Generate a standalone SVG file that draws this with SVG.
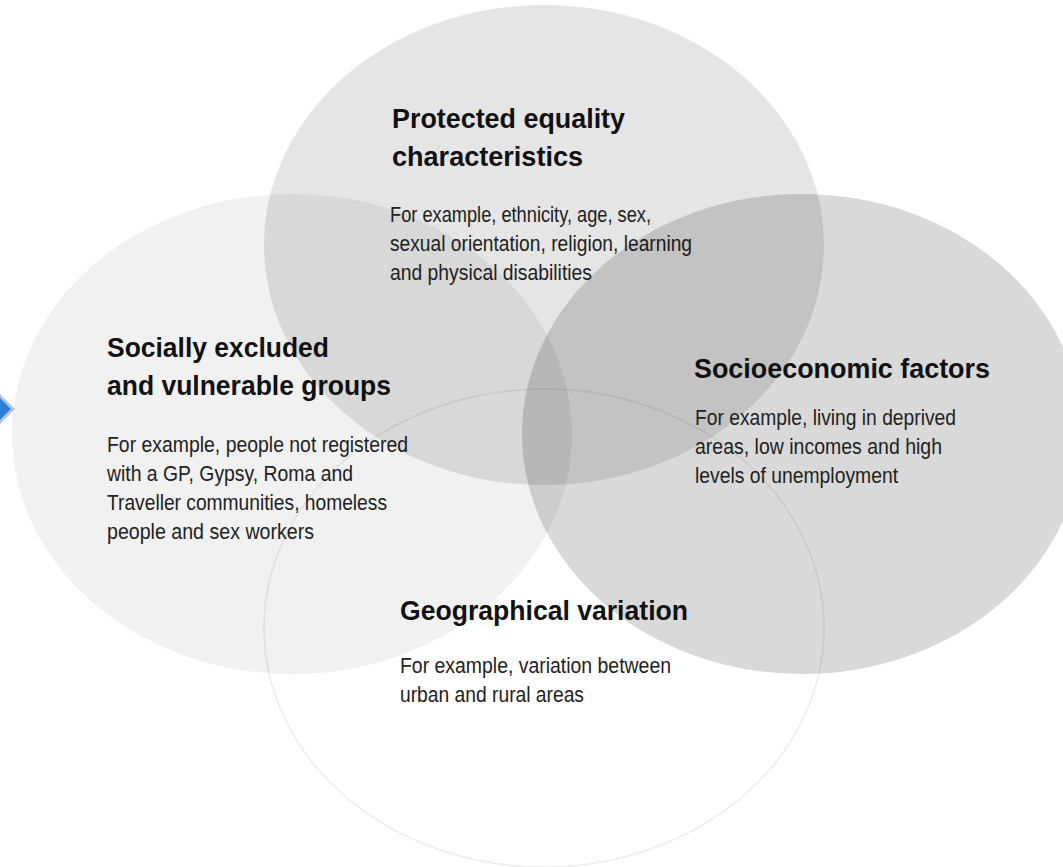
<svg xmlns="http://www.w3.org/2000/svg" width="1063" height="867" viewBox="0 0 1063 867">
  <style>
    .head { font-family: "Liberation Sans", Arial, sans-serif; font-weight: bold; font-size: 27px; fill: #111; }
    .body { font-family: "Liberation Sans", Arial, sans-serif; font-size: 22px; fill: #222; }
    .circle { stroke: none; }
  </style>
  <rect width="1063" height="867" fill="#ffffff"/>

  <!-- pointer arriving from the left edge -->
  <g id="connectors">
    <polygon points="13,409 -14,382 -41,409 -14,436" fill="#2b7fd9" stroke="#c4c0cc" stroke-width="3"/>
  </g>

  <!-- Socially excluded and vulnerable groups -->
  <g id="node-social">
    <ellipse class="circle" cx="292" cy="434" rx="280" ry="240" fill="#000" fill-opacity="0.055"/>
    <text class="head" x="107" y="357" textLength="222" lengthAdjust="spacingAndGlyphs">Socially excluded</text>
    <text class="head" x="107" y="395" textLength="284" lengthAdjust="spacingAndGlyphs">and vulnerable groups</text>
    <text class="body" x="107" y="452" textLength="301" lengthAdjust="spacingAndGlyphs">For example, people not registered</text>
    <text class="body" x="107" y="481" textLength="246" lengthAdjust="spacingAndGlyphs">with a GP, Gypsy, Roma and</text>
    <text class="body" x="107" y="510" textLength="280" lengthAdjust="spacingAndGlyphs">Traveller communities, homeless</text>
    <text class="body" x="107" y="539" textLength="207" lengthAdjust="spacingAndGlyphs">people and sex workers</text>
  </g>

  <!-- Protected equality characteristics -->
  <g id="node-protected">
    <ellipse class="circle" cx="544" cy="245" rx="280" ry="240" fill="#000" fill-opacity="0.10"/>
    <text class="head" x="392" y="128" textLength="233" lengthAdjust="spacingAndGlyphs">Protected equality</text>
    <text class="head" x="392" y="166" textLength="191" lengthAdjust="spacingAndGlyphs">characteristics</text>
    <text class="body" x="390" y="222" textLength="261" lengthAdjust="spacingAndGlyphs">For example, ethnicity, age, sex,</text>
    <text class="body" x="390" y="251" textLength="302" lengthAdjust="spacingAndGlyphs">sexual orientation, religion, learning</text>
    <text class="body" x="390" y="280" textLength="202" lengthAdjust="spacingAndGlyphs">and physical disabilities</text>
  </g>

  <!-- Socioeconomic factors -->
  <g id="node-socioeconomic">
    <ellipse class="circle" cx="802" cy="434" rx="280" ry="240" fill="#000" fill-opacity="0.15"/>
    <text class="head" x="694" y="378" textLength="296" lengthAdjust="spacingAndGlyphs">Socioeconomic factors</text>
    <text class="body" x="695" y="425" textLength="261" lengthAdjust="spacingAndGlyphs">For example, living in deprived</text>
    <text class="body" x="695" y="454" textLength="247" lengthAdjust="spacingAndGlyphs">areas, low incomes and high</text>
    <text class="body" x="695" y="483" textLength="203" lengthAdjust="spacingAndGlyphs">levels of unemployment</text>
  </g>

  <!-- Geographical variation -->
  <g id="node-geographical">
    <ellipse cx="544" cy="628" rx="280" ry="239" fill="none" stroke="#000" stroke-opacity="0.07" stroke-width="1.6"/>
    <text class="head" x="400" y="620" textLength="288" lengthAdjust="spacingAndGlyphs">Geographical variation</text>
    <text class="body" x="400" y="673" textLength="271" lengthAdjust="spacingAndGlyphs">For example, variation between</text>
    <text class="body" x="400" y="702" textLength="184" lengthAdjust="spacingAndGlyphs">urban and rural areas</text>
  </g>
</svg>
